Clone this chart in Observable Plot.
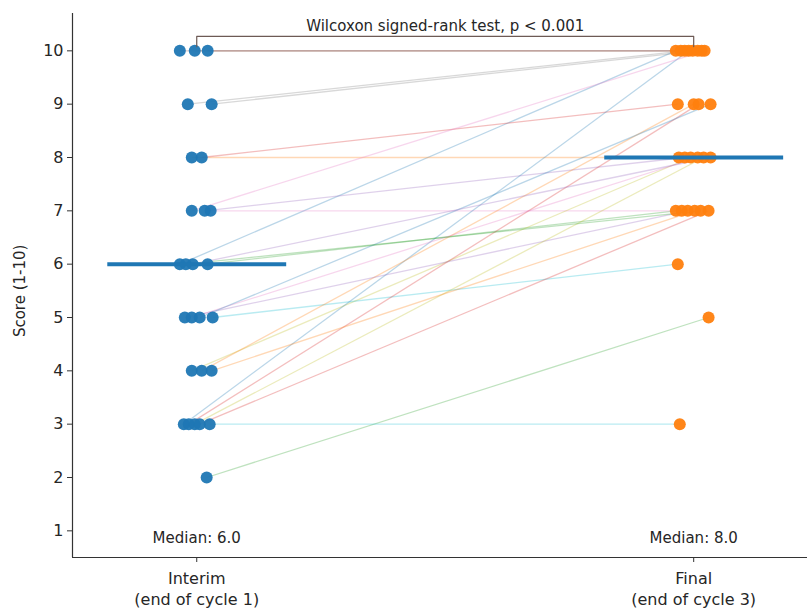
<!DOCTYPE html>
<html>
<head>
<meta charset="utf-8">
<script src="https://cdn.jsdelivr.net/npm/d3@7"></script>
<script src="https://cdn.jsdelivr.net/npm/@observablehq/plot@0.6"></script>
<style>
  html, body { margin: 0; padding: 0; background: #fff; }
  #chart svg { display: block; }
</style>
</head>
<body>
<div id="chart"></div>
<script>
// Scores per subject (1-10)
const interim = [6,8,6,8,7,10,7,9,4,5,3,4,2,3,5,10,5,9,3,3,5,4,6,3,6,10,7];
const finalS  = [10,8,7,9,8,10,7,10,8,6,10,9,5,9,7,10,8,10,8,3,9,7,7,7,8,10,10];
// horizontal jitter (in group units)
const jitterInterim = [-0.034,-0.010,0.022,0.010,0.016,-0.034,0.028,-0.018,-0.010,0.032,-0.026,0.010,0.020,-0.016,-0.024,-0.004,-0.010,0.030,-0.004,0.026,0.006,0.030,-0.022,0.006,-0.008,0.022,-0.010];
const jitterFinal   = [-0.036,-0.030,-0.036,-0.032,-0.018,-0.026,-0.024,-0.018,-0.006,-0.032,-0.010,0.000,0.030,0.010,-0.012,-0.002,0.008,0.008,0.020,-0.028,0.034,0.002,0.014,0.030,0.034,0.016,0.022];
const groupLabels = ["Interim\n(end of cycle 1)", "Final\n(end of cycle 3)"];
const yTicks = [1,2,3,4,5,6,7,8,9,10];
const medians = [d3.median(interim), d3.median(finalS)];
const title = "Wilcoxon signed-rank test, p < 0.001";

const tab10 = d3.schemeCategory10;
const subjects = interim.map((v, i) => ({
  i, a: v, b: finalS[i], ja: jitterInterim[i], jb: jitterFinal[i]
}));
const pointsI = subjects.map(s => ({x: 0 + s.ja, y: s.a}));
const pointsF = subjects.map(s => ({x: 1 + s.jb, y: s.b}));
const medianRows = medians.map((m, g) => ({g, m}));
const font = "DejaVu Sans, sans-serif";
const ink = "#262626";

const plot = Plot.plot({
  width: 807,
  height: 608,
  marginTop: 13,
  marginBottom: 51,
  marginLeft: 72,
  marginRight: 0,
  style: {fontFamily: font, background: "#fff"},
  x: {domain: [-0.25, 1.229], axis: null},
  y: {domain: [0.5, 10.7], axis: null},
  marks: [
    // paired lines
    Plot.link(subjects, {
      x1: d => 0 + d.ja, y1: "a", x2: d => 1 + d.jb, y2: "b",
      stroke: d => tab10[d.i % 10], strokeOpacity: 0.3, strokeWidth: 1.3
    }),
    Plot.dot(pointsI, {x: "x", y: "y", r: 6, fill: tab10[0], fillOpacity: 0.95}),
    Plot.dot(pointsF, {x: "x", y: "y", r: 6, fill: tab10[1], fillOpacity: 0.95}),
    // medians
    Plot.link(medianRows, {
      x1: d => d.g - 0.18, x2: d => d.g + 0.18, y1: "m", y2: "m",
      stroke: tab10[0], strokeWidth: 4
    }),
    Plot.text(medianRows, {
      x: "g", y: 0.87, text: d => `Median: ${d.m.toFixed(1)}`,
      fontSize: 15, fill: ink, fontFamily: font
    }),
    // significance bracket
    Plot.line([{x:0,y:10.08},{x:0,y:10.27},{x:1,y:10.27},{x:1,y:10.08}], {
      x: "x", y: "y", stroke: "#6d5a55", strokeWidth: 1.2
    }),
    Plot.text([title], {x: 0.5, y: 10.47, text: d => d, fontSize: 15, fill: ink, fontFamily: font}),
    // spines
    Plot.ruleX([-0.25], {y1: 0.5, y2: 10.7, stroke: "#333", strokeWidth: 1.2}),
    Plot.ruleY([0.5], {x1: -0.25, x2: 1.229, stroke: "#333", strokeWidth: 1.2}),
    // axes
    Plot.axisY(yTicks, {
      x: -0.25, anchor: "left", tickSize: 5, tickPadding: 4,
      fontSize: 16, label: null, stroke: "#333", fill: ink,
      tickFormat: d => String(d)
    }),
    Plot.axisX([0, 1], {
      y: 0.5, anchor: "bottom", tickSize: 5, tickPadding: 7,
      fontSize: 16, label: null, stroke: "#333", fill: ink,
      tickFormat: d => groupLabels[d], lineHeight: 1.3
    }),
    Plot.text(["Score (1-10)"], {
      x: -0.25, dx: -52, y: 5.5, text: d => d, rotate: -90,
      fontSize: 15, fill: ink, fontFamily: font
    })
  ]
});
document.getElementById("chart").appendChild(plot);
</script>
</body>
</html>
